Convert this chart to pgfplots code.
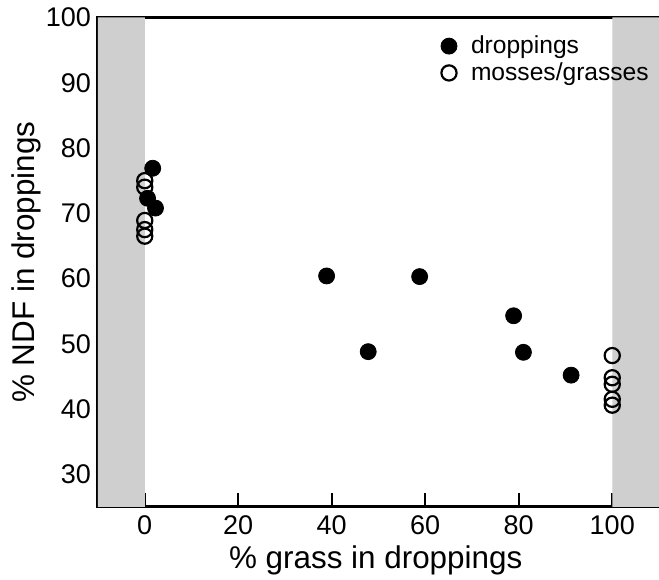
\documentclass[border=0pt]{standalone}
\usepackage{fontspec}
\setmainfont{Liberation Sans}
\usepackage{pgfplots}
\pgfplotsset{compat=1.18}

\begin{document}
\begin{tikzpicture}
\begin{axis}[
  name=ax,
  scale only axis, width=280.5pt, height=244.75pt,
  xmin=-10, xmax=110, ymin=25, ymax=100,
  xtick={0,20,...,100}, ytick={30,40,...,100},
  tick align=inside, xtick pos=bottom, ytick pos=left,
  major tick length=7pt,
  axis line style={line width=1.5pt},
  tick style={line width=1pt, black},
  /pgf/number format/assume math mode=true,
  ticklabel style={font=\fontsize{13.5}{16}\selectfont},
  xticklabel style={yshift=-1pt},
  label style={font=\fontsize{15.7}{18}\selectfont},
  xlabel={\% grass in droppings},
  ylabel={\% NDF in droppings},
  xlabel style={at={(axis description cs:0.495,-0.11)}, anchor=center, inner sep=0pt},
  ylabel style={at={(axis description cs:-0.127,0.5)}, anchor=center, inner sep=0pt},
  legend style={draw=none, fill=none, at={(axis description cs:0.6,0.98)}, anchor=north west,
    font=\fontsize{12.3}{14}\selectfont, row sep=-1pt, column sep=5pt},
  legend cell align=left,
]
% shaded bands
\addplot[fill=black!19, draw=none, forget plot] coordinates {(-10,25) (0,25) (0,100) (-10,100) (-10,25)};
\addplot[fill=black!19, draw=none, forget plot] coordinates {(100,25) (110,25) (110,100) (100,100) (100,25)};

\addlegendimage{only marks, mark=*, mark size=4pt, black}
\addlegendentry{droppings}
\addlegendimage{only marks, mark=o, mark size=3.8pt, line width=1.1pt, black}
\addlegendentry{mosses/grasses}

% mosses/grasses
\addplot[only marks, mark=o, mark size=3.8pt, line width=1.1pt, black, forget plot] coordinates {
  (0,75) (0,74) (0,68.9) (0,67.5) (0,66.5)
  (100,48.2) (100,44.8) (100,43.8) (100,41.5) (100,40.6)};
% droppings
\addplot[only marks, mark=*, mark size=4pt, black, forget plot] coordinates {
  (1.7,76.9) (0.6,72.3) (2.3,70.8) (38.9,60.4) (47.8,48.8)
  (58.8,60.3) (78.9,54.3) (81,48.7) (91.2,45.2)};
\end{axis}
\pgfresetboundingbox
\path ([xshift=-49pt,yshift=-36.5pt]ax.south west) rectangle ([yshift=8.75pt]ax.north east);
\end{tikzpicture}
\end{document}
